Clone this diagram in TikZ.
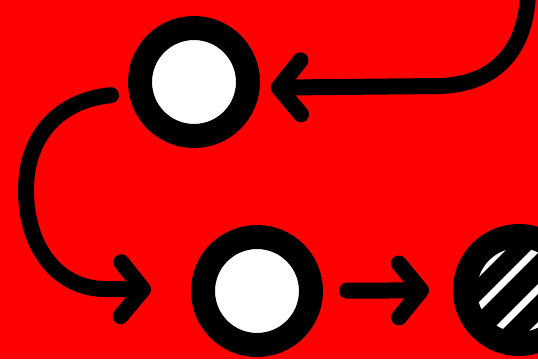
\documentclass[tikz,border=0pt]{standalone}
\usetikzlibrary{arrows.meta}
\begin{document}
\begin{tikzpicture}[x=1pt,y=-1pt,
  ring/.style={circle,draw=black,line width=24pt,fill=white,minimum size=108pt,inner sep=0pt,outer sep=12pt},
  darkring/.style={ring,fill=black},
  conn/.style={line width=16pt,line cap=round,line join=round,
    -{Straight Barb[length=22pt,width=54pt,round]}},
  hatchline/.style={white,line width=7pt}]
\fill[red] (0,0) rectangle (538,359);
\useasboundingbox (0,0) rectangle (538,359);
\node[ring] (c1) at (194,82) {};
\node[ring] (c2) at (257,291) {};
\node[darkring] (c3) at (519,290) {};
\begin{scope}
  \clip (c3.center) circle (42pt);
  \foreach \c in {751,786,827,865}{
    \draw[hatchline] (\c-400,400) -- (\c+100,-100);
  }
\end{scope}
\coordinate (top) at (528,-12);
\draw[conn,shorten >=11pt] (top) .. controls (528,45) and (500,84) .. (440,86) -- (c1.-5);
\draw[conn,shorten <=18pt,shorten >=40pt] (c1.190) .. controls (60,100) and (26,135) .. (26,190)
   .. controls (26,250) and (60,289) .. (105,289) -- (c2);
\draw[conn,shorten <=24pt,shorten >=24pt] (c2) -- (c3);
\end{tikzpicture}
\end{document}
